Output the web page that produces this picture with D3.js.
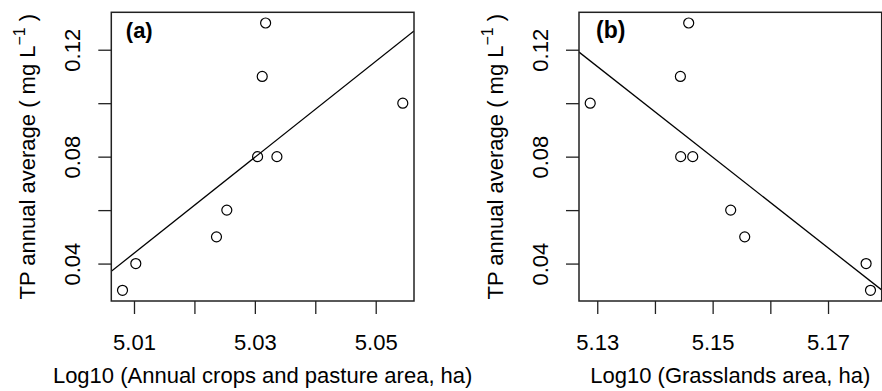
<!DOCTYPE html>
<html>
<head>
<meta charset="utf-8">
<script src="https://cdn.jsdelivr.net/npm/d3@7"></script>
<style>
  body { margin: 0; background: white; }
  text { font-family: "Liberation Sans", Arial, Helvetica, sans-serif; fill: black; }
</style>
</head>
<body>
<script>
var width = 882, height = 391;

// panel (a): annual crops and pasture area
var cropsX = [5.0081, 5.0103, 5.02365, 5.02536, 5.03045, 5.03365, 5.03122, 5.03178, 5.05448];
var cropsTP = [0.03, 0.04, 0.05, 0.06, 0.08, 0.08, 0.11, 0.13, 0.10];
var cropsTicks = [5.01, 5.02, 5.03, 5.04, 5.05];
var cropsLabels = ["5.01", "", "5.03", "", "5.05"];

// panel (b): grasslands area
var grassX = [5.12878, 5.14441, 5.14585, 5.14446, 5.14655, 5.15313, 5.15556, 5.1766, 5.17736];
var grassTP = [0.10, 0.11, 0.13, 0.08, 0.08, 0.06, 0.05, 0.04, 0.03];
var grassTicks = [5.13, 5.14, 5.15, 5.16, 5.17];
var grassLabels = ["5.13", "", "5.15", "", "5.17"];

var yTicks = [0.04, 0.06, 0.08, 0.10, 0.12];
var yLabels = ["0.04", "", "0.08", "", "0.12"];

var panels = [
  { id: "a", tag: "(a)", x: cropsX, y: cropsTP, ticks: cropsTicks, labels: cropsLabels,
    title: "Log10 (Annual crops and pasture area, ha)", left: 111.3, tagDx: 14.5, tagSize: 22 },
  { id: "b", tag: "(b)", x: grassX, y: grassTP, ticks: grassTicks, labels: grassLabels,
    title: "Log10 (Grasslands area, ha)", left: 579, tagDx: 17, tagSize: 23 }
];

var plotTop = 12.3, pw = 302.7, ph = 288.7;
var fontSize = 22;

var svg = d3.select("body")
  .append("svg")
    .attr("width", width)
    .attr("height", height);

// R-style range extension by 4%
function extend(values) {
  var e = d3.extent(values), r = e[1] - e[0];
  return [e[0] - 0.04 * r, e[1] + 0.04 * r];
}

function fit(xs, ys) {
  var mx = d3.mean(xs), my = d3.mean(ys), sxy = 0, sxx = 0;
  for (var i = 0; i < xs.length; i++) {
    sxy += (xs[i] - mx) * (ys[i] - my);
    sxx += (xs[i] - mx) * (xs[i] - mx);
  }
  var b = sxy / sxx;
  return { a: my - b * mx, b: b };
}

panels.forEach(function(p) {
  var x = d3.scaleLinear().domain(extend(p.x)).range([0, pw]);
  var y = d3.scaleLinear().domain(extend(p.y)).range([ph, 0]);

  var g = svg.append("g")
      .attr("transform", "translate(" + p.left + "," + plotTop + ")");

  g.append("clipPath")
      .attr("id", "clip-" + p.id)
    .append("rect")
      .attr("width", pw)
      .attr("height", ph);

  // x axis
  var xAxis = g.append("g")
      .attr("transform", "translate(0," + ph + ")")
      .call(d3.axisBottom(x).tickValues(p.ticks).tickSize(13)
        .tickFormat(function(d, i) { return p.labels[i]; }));
  xAxis.select(".domain").remove();
  xAxis.selectAll("line").attr("stroke", "#222").attr("stroke-width", 1.3);
  xAxis.selectAll("text")
      .attr("font-size", fontSize)
      .attr("dy", null)
      .attr("y", 48.5);

  // y axis
  var yAxis = g.append("g")
      .call(d3.axisLeft(y).tickValues(yTicks).tickSize(13)
        .tickFormat(function(d, i) { return yLabels[i]; }));
  yAxis.select(".domain").remove();
  yAxis.selectAll("line").attr("stroke", "#222").attr("stroke-width", 1.3);
  yAxis.selectAll("text")
      .attr("font-size", fontSize)
      .attr("x", null)
      .attr("dy", null)
      .attr("text-anchor", "middle")
      .attr("transform", "translate(-31.3,0) rotate(-90)");

  // regression line
  var m = fit(p.x, p.y), xd = x.domain();
  g.append("line")
      .attr("clip-path", "url(#clip-" + p.id + ")")
      .attr("x1", x(xd[0]))
      .attr("y1", y(m.a + m.b * xd[0]))
      .attr("x2", x(xd[1]))
      .attr("y2", y(m.a + m.b * xd[1]))
      .attr("stroke", "black")
      .attr("stroke-width", 1.3);

  // points
  g.append("g")
    .selectAll("circle")
      .data(p.x)
    .enter()
    .append("circle")
      .attr("cx", function(d) { return x(d); })
      .attr("cy", function(d, i) { return y(p.y[i]); })
      .attr("r", 5)
      .attr("fill", "none")
      .attr("stroke", "black")
      .attr("stroke-width", 1.2);

  // frame
  g.append("rect")
      .attr("width", pw)
      .attr("height", ph)
      .attr("fill", "none")
      .attr("stroke", "#222")
      .attr("stroke-width", 1.5);

  // panel tag
  g.append("text")
      .attr("x", p.tagDx)
      .attr("y", 25.4)
      .attr("font-size", p.tagSize)
      .attr("font-weight", "bold")
      .text(p.tag);

  // x title
  g.append("text")
      .attr("x", pw / 2)
      .attr("y", ph + 82)
      .attr("text-anchor", "middle")
      .attr("font-size", fontSize)
      .text(p.title);

  // y title
  var yt = g.append("text")
      .attr("text-anchor", "middle")
      .attr("font-size", fontSize)
      .attr("transform", "translate(-76," + (ph / 2) + ") rotate(-90)");
  yt.append("tspan").text("TP annual average ( mg L");
  yt.append("tspan").attr("font-size", 16).attr("dy", -10.5).text("\u22121");
  yt.append("tspan").attr("dy", 10.5).text(" )");
});
</script>
</body>
</html>
